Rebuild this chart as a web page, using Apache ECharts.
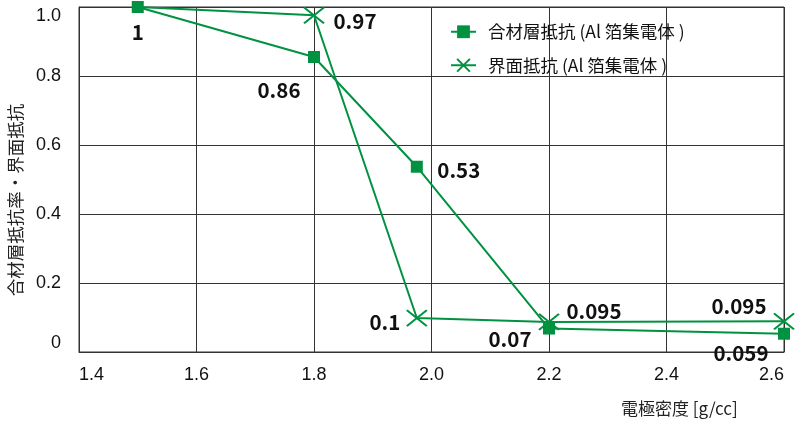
<!DOCTYPE html>
<html>
<head>
<meta charset="utf-8">
<script src="https://cdn.jsdelivr.net/npm/echarts@6/dist/echarts.min.js"></script>
<style>html,body{margin:0;padding:0;background:#fff}#c{width:800px;height:433px}</style>
</head>
<body>
<div id="c"></div>
<script>
// data
var seriesNames = ['合材層抵抗 (Al 箔集電体 )', '界面抵抗 (Al 箔集電体 )'];
var xTicks = [1.4, 1.6, 1.8, 2.0, 2.2, 2.4, 2.6];
var yTicks = [0, 0.2, 0.4, 0.6, 0.8, 1.0];
var sqX = [1.5, 1.8, 1.975, 2.2, 2.6];
var sqY = [1.0, 0.855, 0.537, 0.068, 0.053];
var sqLabels = ['1', '0.86', '0.53', '0.07', '0.059'];
var crX = [1.5, 1.8, 1.975, 2.2, 2.6];
var crY = [1.0, 0.976, 0.0985, 0.087, 0.089];
var crLabels = ['', '0.97', '0.1', '0.095', '0.095'];
var xName = '電極密度 [g/cc]';
var yName = '合材層抵抗率・界面抵抗';

var GREEN = '#009240';
var sqOffsets = [[0, 25], [-35, 33], [42, 3], [-39, 11], [-43, 19]];
var crOffsets = [[0, 0], [41, 6], [-32, 4], [45, -11], [-45, -15]];
var labelFont = {fontFamily: 'Noto Sans CJK JP', fontWeight: 'bold', fontSize: 20.5, color: '#111'};

function build(xs, ys, labels, offs, hideFirst) {
  return xs.map(function (x, i) {
    var item = {value: [x, ys[i]], label: Object.assign({show: labels[i] !== '', formatter: labels[i], position: 'inside', offset: offs[i]}, labelFont)};
    if (hideFirst && i === 0) item.symbol = 'none';
    return item;
  });
}

var chart = echarts.init(document.getElementById('c'), null, {renderer: 'canvas'});
chart.setOption({
  animation: false,
  backgroundColor: '#fff',
  grid: {left: 79, right: 16, top: 7, bottom: 81, show: true, borderColor: '#333', borderWidth: 1},
  legend: {
    orient: 'vertical', left: 450, top: 23, padding: 0, itemGap: 16, itemWidth: 25, itemHeight: 16,
    textStyle: {fontFamily: 'Noto Sans CJK JP', fontSize: 17.5, color: '#111', padding: [0, 0, 0, 7]},
    data: seriesNames
  },
  xAxis: {
    type: 'value', min: xTicks[0], max: xTicks[xTicks.length - 1], interval: 0.2,
    axisLine: {show: true, lineStyle: {color: '#333', width: 1}},
    axisTick: {show: false},
    splitLine: {show: true, lineStyle: {color: '#333', width: 1}},
    axisLabel: {margin: 14, fontFamily: 'Liberation Sans', fontSize: 18, color: '#111',
      alignMinLabel: 'left', alignMaxLabel: 'right',
      formatter: function (v) { return v.toFixed(1); }}
  },
  yAxis: {
    type: 'value', min: yTicks[0], max: yTicks[yTicks.length - 1], interval: 0.2,
    axisLine: {show: true, lineStyle: {color: '#333', width: 1}},
    axisTick: {show: false},
    splitLine: {show: true, lineStyle: {color: '#333', width: 1}},
    axisLabel: {margin: 18, fontFamily: 'Liberation Sans', fontSize: 18, color: '#111',
      verticalAlignMinLabel: 'bottom', verticalAlignMaxLabel: 'top',
      formatter: function (v) { return v === 0 ? '0' : v.toFixed(1); }}
  },
  graphic: [
    {type: 'text', left: 621, top: 400, style: {text: xName, font: '17px "Noto Sans CJK JP"', fill: '#222'}},
    {type: 'text', x: 15, y: 200, rotation: Math.PI / 2, style: {text: yName, font: '17.5px "Noto Sans CJK JP"', fill: '#222', align: 'center', verticalAlign: 'middle'}}
  ],
  series: [
    {
      name: seriesNames[1], type: 'line', z: 2,
      symbol: 'path://M0,0L10,10M10,0L0,10', symbolSize: [20, 16],
      lineStyle: {color: GREEN, width: 2},
      itemStyle: {color: GREEN, borderColor: GREEN, borderWidth: 2},
      data: build(crX, crY, crLabels, crOffsets, true)
    },
    {
      name: seriesNames[0], type: 'line', z: 3,
      symbol: 'rect', symbolSize: 12,
      lineStyle: {color: GREEN, width: 2},
      itemStyle: {color: GREEN},
      data: build(sqX, sqY, sqLabels, sqOffsets, false)
    }
  ]
});
</script>
</body>
</html>
